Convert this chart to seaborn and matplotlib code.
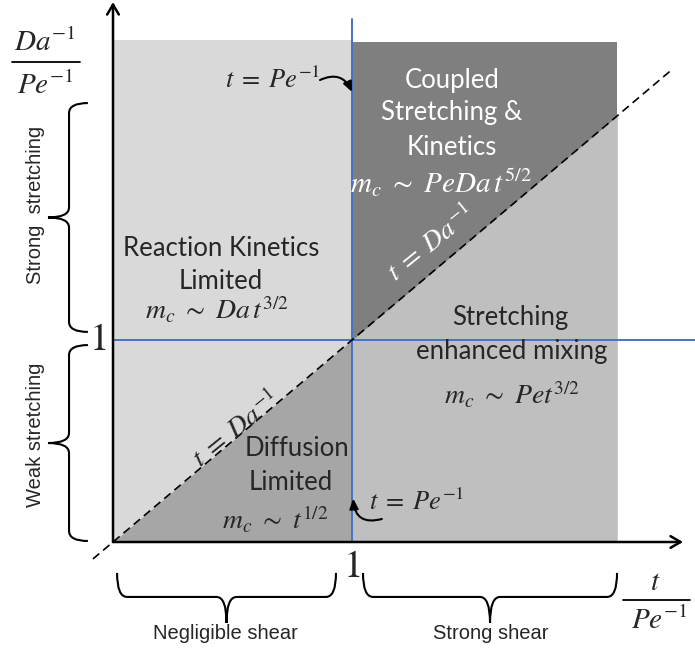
import matplotlib
matplotlib.use("Agg")
import matplotlib.pyplot as plt
import seaborn as sns
import numpy as np
from matplotlib.path import Path
from matplotlib.patches import PathPatch

# normalised axes: x = t / Pe^-1, y = Da^-1 / Pe^-1, regime boundaries at 1
regime_break = 1.0
shade_t = [0.0, 1.0, 2.11]          # left edge, shear boundary, right edge of shading
shade_top = [2.485, 2.475]          # top of shading left / right of boundary
diag_t = [-0.084, 2.33]             # t = Da^-1 dashed line (y = x)
blue_v = [0.0, 2.59]                # t = Pe^-1 line extent (y)
blue_h = [0.0, 2.435]               # Da^-1/Pe^-1 = 1 line extent (x)
axis_ends = [2.385, 2.673]          # x / y axis arrow tips

region_colors = {"kinetics": "#d9d9d9", "diffusion": "#a6a6a6",
                 "coupled": "#7f7f7f", "stretching": "#bfbfbf"}
blue = "#4472c4"

sns.set_theme(style="white")
plt.rcParams["mathtext.fontset"] = "stix"
plt.rcParams["font.family"] = ["Lato", "DejaVu Sans"]

fig = plt.figure(figsize=(6.95, 6.53), dpi=100)
ax = fig.add_axes([0, 0, 1, 1])
ax.set_xlim(-113 / 239, 582 / 239)
ax.set_ylim(-111 / 202, 542 / 202)
ax.axis("off")

# shaded regimes
tl = np.linspace(shade_t[0], shade_t[1], 50)
tr = np.linspace(shade_t[1], shade_t[2], 50)
ax.fill_between(tl, 0, shade_top[0], color=region_colors["kinetics"], lw=0)
ax.fill_between(tl, 0, tl, color=region_colors["diffusion"], lw=0)
ax.fill_between(tr, 0, shade_top[1], color=region_colors["coupled"], lw=0)
ax.fill_between(tr, 0, np.minimum(tr, shade_top[1]), color=region_colors["stretching"], lw=0)

# boundaries
sns.lineplot(x=[regime_break, regime_break], y=blue_v, color=blue, lw=1.4, ax=ax,
             estimator=None, sort=False)
sns.lineplot(x=blue_h, y=[regime_break, regime_break], color=blue, lw=1.4, ax=ax,
             estimator=None, sort=False)
sns.lineplot(x=diag_t, y=diag_t, color="black", lw=1.2, ax=ax,
             linestyle=(0, (5, 3)))

# axes with arrows
arrow_kw = dict(arrowstyle="->,head_length=0.6,head_width=0.35", lw=1.8, color="black",
                shrinkA=0, shrinkB=0)
ax.annotate("", xy=(axis_ends[0], 0), xytext=(0, 0), arrowprops=arrow_kw)
ax.annotate("", xy=(0, axis_ends[1]), xytext=(0, 0), arrowprops=arrow_kw)


def vbrace(xe, xs, xt, y0, y1, r):
    ym = (y0 + y1) / 2
    verts = [(xe, y1), (xs, y1), (xs, y1 - r), (xs, ym + r), (xs, ym), (xt, ym),
             (xs, ym), (xs, ym - r), (xs, y0 + r), (xs, y0), (xe, y0)]
    codes = [Path.MOVETO, Path.CURVE3, Path.CURVE3, Path.LINETO, Path.CURVE3, Path.CURVE3,
             Path.CURVE3, Path.CURVE3, Path.LINETO, Path.CURVE3, Path.CURVE3]
    ax.add_patch(PathPatch(Path(verts, codes), fc="none", ec="black", lw=1.5))


def hbrace(ye, ys, yt, x0, x1, r):
    xm = (x0 + x1) / 2
    verts = [(x0, ye), (x0, ys), (x0 + r, ys), (xm - r, ys), (xm, ys), (xm, yt),
             (xm, ys), (xm + r, ys), (x1 - r, ys), (x1, ys), (x1, ye)]
    codes = [Path.MOVETO, Path.CURVE3, Path.CURVE3, Path.LINETO, Path.CURVE3, Path.CURVE3,
             Path.CURVE3, Path.CURVE3, Path.LINETO, Path.CURVE3, Path.CURVE3]
    ax.add_patch(PathPatch(Path(verts, codes), fc="none", ec="black", lw=1.5))


vbrace(-0.105, -0.184, -0.272, 1.040, 2.173, 0.05)
vbrace(-0.105, -0.184, -0.272, 0.005, 0.975, 0.05)
hbrace(-0.153, -0.272, -0.401, 0.017, 0.933, 0.042)
hbrace(-0.153, -0.272, -0.401, 1.046, 2.109, 0.042)

sans = dict(family=["Liberation Sans"], fontsize=14.5, ha="center", va="center")
ax.text(-0.326, 1.668, "Strong  stretching", rotation=90, **sans)
ax.text(-0.326, 0.530, "Weak stretching", rotation=90, **sans)
ax.text(0.469, -0.455, "Negligible shear", **sans)
ax.text(1.582, -0.455, "Strong shear", **sans)

# axis labels (fractions) and unit ticks
mk = dict(ha="center", va="center", fontsize=21)
ax.text(-0.285, 2.475, r"$Da^{-1}$", **mk)
ax.text(-0.285, 2.262, r"$Pe^{-1}$", **mk)
sns.lineplot(x=[-0.423, -0.138], y=[2.376, 2.376], color="black", lw=1.3, ax=ax)
ax.text(2.270, -0.200, r"$t$", **mk)
ax.text(2.285, -0.383, r"$Pe^{-1}$", **mk)
sns.lineplot(x=[2.134, 2.414], y=[-0.287, -0.287], color="black", lw=1.3, ax=ax)
ax.text(-0.063, 1.005, r"$\mathrm{1}$", ha="center", va="center", fontsize=28)
ax.text(1.0, -0.119, r"$\mathrm{1}$", ha="center", va="center", fontsize=28)

# regime labels
lab = dict(ha="center", va="center", fontsize=18.5)
fm = dict(ha="center", va="center", fontsize=20)
ax.text(0.452, 1.455, "Reaction Kinetics", **lab)
ax.text(0.452, 1.292, "Limited", **lab)
ax.text(0.435, 1.149, r"$m_c\ \sim\ Da\,t^{3/2}$", **fm)

ax.text(1.418, 2.287, "Coupled", color="white", **lab)
ax.text(1.418, 2.124, "Stretching &", color="white", **lab)
ax.text(1.418, 1.955, "Kinetics", color="white", **lab)
ax.text(1.372, 1.777, r"$m_c\ \sim\ PeDa\,t^{5/2}$", color="white",
        ha="center", va="center", fontsize=21)

ax.text(1.661, 1.109, "Stretching", **lab)
ax.text(1.669, 0.941, "enhanced mixing", **lab)
ax.text(1.669, 0.728, r"$m_c\ \sim\ Pet^{3/2}$", **fm)

ax.text(0.770, 0.465, "Diffusion", **lab)
ax.text(0.745, 0.297, "Limited", **lab)
ax.text(0.678, 0.114, r"$m_c\ \sim\ t^{1/2}$", **fm)

ax.text(1.33, 1.48, r"$t\;=\;Da^{-1}$", color="white", rotation=39, **fm)
ax.text(0.515, 0.56, r"$t\;=\;Da^{-1}$", rotation=39, **fm)

# t = Pe^-1 callouts
ax.text(0.669, 2.287, r"$t\;=\;Pe^{-1}$", ha="center", va="center", fontsize=19)
ax.text(1.272, 0.198, r"$t\;=\;Pe^{-1}$", ha="center", va="center", fontsize=19)
call_kw = dict(arrowstyle="-|>,head_length=0.5,head_width=0.22", lw=1.5, color="black",
               shrinkA=0, shrinkB=0)
ax.annotate("", xy=(1.0, 2.228), xytext=(0.866, 2.287),
            arrowprops=dict(connectionstyle="arc3,rad=-0.5", **call_kw))
ax.annotate("", xy=(1.005, 0.215), xytext=(1.125, 0.114),
            arrowprops=dict(connectionstyle="arc3,rad=-0.6", **call_kw))

fig.savefig("out.png", dpi=100)
